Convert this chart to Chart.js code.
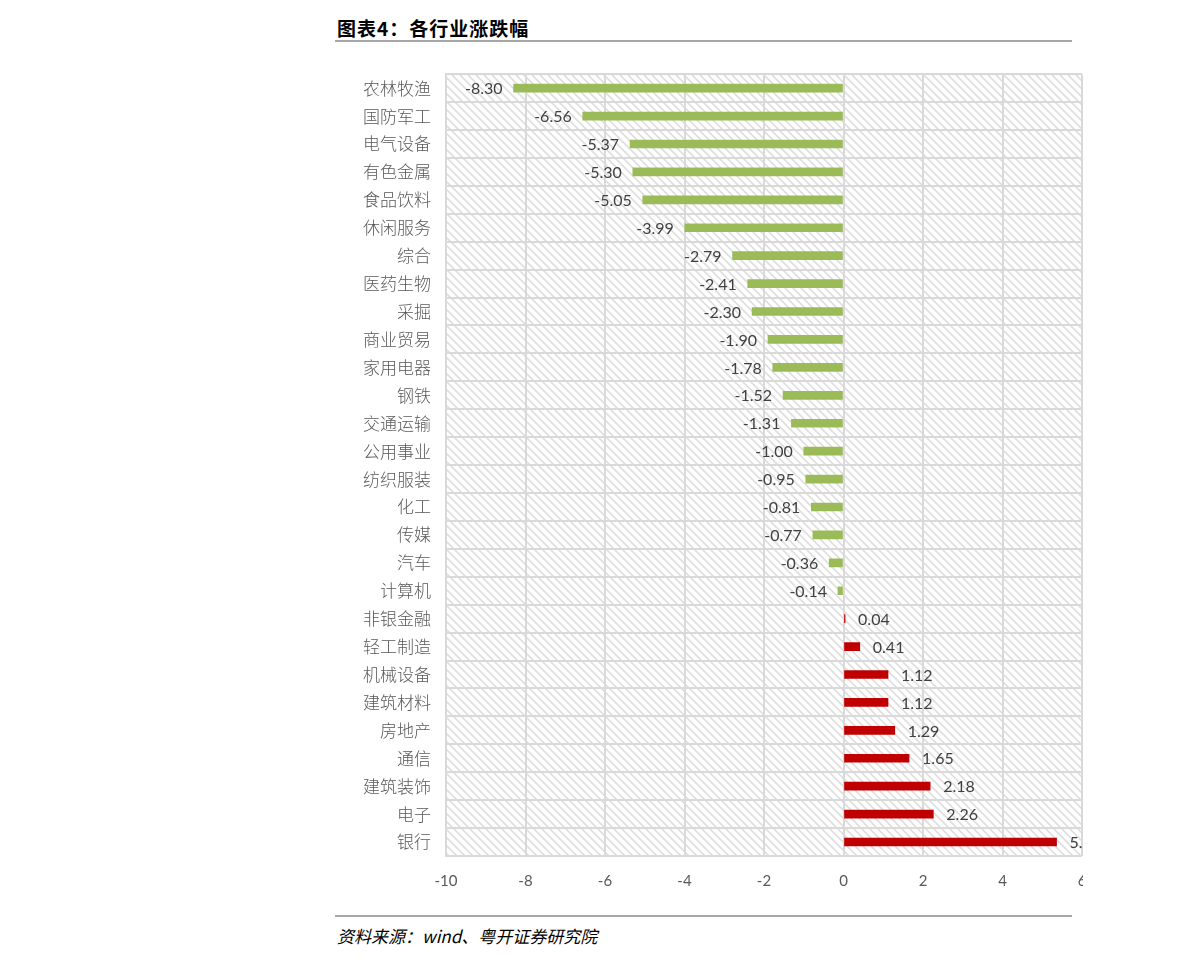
<!DOCTYPE html>
<html>
<head>
<meta charset="utf-8">
<script src="https://cdn.jsdelivr.net/npm/chart.js@4.4.0/dist/chart.umd.min.js"></script>
<style>
  body { margin: 0; background: #fff; width: 1191px; height: 966px; position: relative; overflow: hidden; }
  .title { position: absolute; left: 337px; top: 14px; font: bold 19px "Noto Sans CJK SC", sans-serif; color: #000; letter-spacing: 1px; }
  .rule { position: absolute; left: 335px; width: 737px; height: 0; border-top: 2px solid #a6a6a6; }
  .src { position: absolute; left: 337px; top: 923px; font: italic 17px "Noto Sans CJK SC", sans-serif; color: #000; }
  .wrap { position: absolute; left: 330px; top: 49px; width: 753px; height: 860px; overflow: hidden; }
  .wrap canvas { position: absolute; left: 0; top: 0; }
</style>
</head>
<body>
<div class="title">图表4：各行业涨跌幅</div>
<div class="rule" style="top:40px"></div>
<div class="wrap"><canvas id="barChart" width="800" height="847"></canvas></div>
<div class="rule" style="top:915px"></div>
<div class="src">资料来源：wind、粤开证券研究院</div>
<script>
/* eslint-disable no-undef */
const categorias = ['农林牧渔', '国防军工', '电气设备', '有色金属', '食品饮料', '休闲服务', '综合', '医药生物', '采掘', '商业贸易',
  '家用电器', '钢铁', '交通运输', '公用事业', '纺织服装', '化工', '传媒', '汽车', '计算机', '非银金融',
  '轻工制造', '机械设备', '建筑材料', '房地产', '通信', '建筑装饰', '电子', '银行']
const valores = [-8.30, -6.56, -5.37, -5.30, -5.05, -3.99, -2.79, -2.41, -2.30, -1.90,
  -1.78, -1.52, -1.31, -1.00, -0.95, -0.81, -0.77, -0.36, -0.14, 0.04,
  0.41, 1.12, 1.12, 1.29, 1.65, 2.18, 2.26, 5.36]
const xMin = -10
const xMax = 6
const xPaso = 2

const verde = '#9BBB59'
const rojo = '#C00000'
const colores = valores.map(v => (v < 0 ? verde : rojo))

// patron rayado del fondo
function crearPatron (ctx) {
  const c = document.createElement('canvas')
  c.width = 8
  c.height = 8
  const p = c.getContext('2d')
  p.fillStyle = '#fff'
  p.fillRect(0, 0, 8, 8)
  p.strokeStyle = '#dedede'
  p.lineWidth = 1.6
  p.beginPath()
  p.moveTo(-2, -2); p.lineTo(10, 10)
  p.moveTo(-2, 6); p.lineTo(2, 10)
  p.moveTo(6, -2); p.lineTo(10, 2)
  p.stroke()
  return ctx.createPattern(c, 'repeat')
}

const fondoRayado = {
  id: 'fondoRayado',
  beforeDraw (chart) {
    const { ctx, chartArea: a } = chart
    ctx.save()
    ctx.fillStyle = crearPatron(ctx)
    ctx.fillRect(a.left, a.top, a.right - a.left, a.bottom - a.top)
    ctx.restore()
  }
}

// etiquetas de valor junto a cada barra
const etiquetas = {
  id: 'etiquetas',
  afterDatasetsDraw (chart) {
    const { ctx } = chart
    const meta = chart.getDatasetMeta(0)
    ctx.save()
    ctx.font = '16px Lato, "Open Sans", sans-serif'
    ctx.fillStyle = '#404040'
    ctx.textBaseline = 'middle'
    meta.data.forEach((bar, i) => {
      const v = valores[i]
      const txt = v.toFixed(2)
      if (v < 0) {
        ctx.textAlign = 'right'
        ctx.fillText(txt, bar.x - 11, bar.y + 1)
      } else {
        ctx.textAlign = 'left'
        ctx.fillText(txt, bar.x + 13, bar.y + 1)
      }
    })
    ctx.restore()
  }
}

const ctx1 = document.getElementById('barChart').getContext('2d')
const myChart1 = new Chart(ctx1, {
  type: 'bar',
  data: {
    labels: categorias,
    datasets: [{
      data: valores,
      backgroundColor: colores,
      borderWidth: 0,
      barThickness: 8
    }]
  },
  options: {
    indexAxis: 'y',
    responsive: false,
    animation: false,
    layout: { padding: { top: 14, right: 48, bottom: 0, left: 0 } },
    plugins: { legend: { display: false }, tooltip: { enabled: false } },
    scales: {
      x: {
        min: xMin,
        max: xMax,
        ticks: {
          stepSize: xPaso,
          padding: 16,
          color: '#595959',
          font: { family: 'Lato, "Open Sans", sans-serif', size: 15 }
        },
        grid: { color: '#d9d9d9', lineWidth: 2, drawTicks: false },
        border: { display: false },
        afterFit (scale) { scale.height = 40 }
      },
      y: {
        ticks: {
          padding: 15,
          color: '#595959',
          font: { family: '"Noto Sans CJK SC", sans-serif', size: 17, weight: 300 }
        },
        grid: { color: '#d9d9d9', lineWidth: 2, drawTicks: false, offset: true },
        border: { display: true, color: '#d9d9d9', width: 2 },
        afterFit (scale) { scale.width = 116 }
      }
    }
  },
  plugins: [fondoRayado, etiquetas]
})
</script>
</body>
</html>
